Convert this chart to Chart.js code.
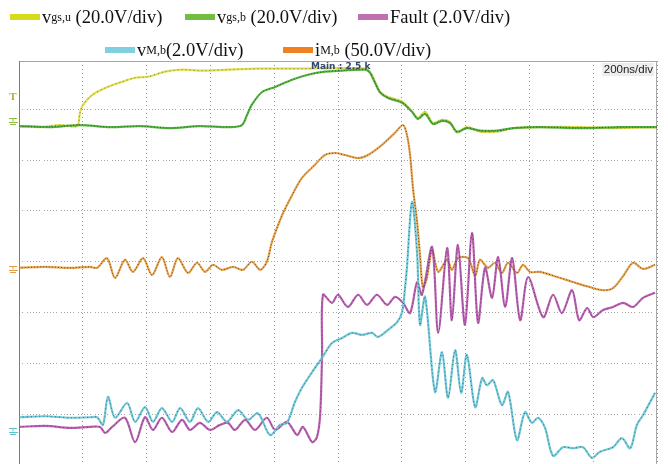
<!DOCTYPE html>
<html>
<head>
<meta charset="utf-8">
<script src="https://cdn.jsdelivr.net/npm/chart.js@4.4.0/dist/chart.umd.min.js"></script>
<style>
body { margin: 0; background: #fff; overflow: hidden; }
#wrap { position: relative; width: 668px; height: 464px; }
#myChart { position: absolute; left: 0; top: 0; }
.item { position: absolute; display: flex; align-items: center; height: 24px;
        font-family: "Liberation Serif", "Times New Roman", serif; font-size: 18.5px; color: #111; white-space: nowrap; }
.bar { width: 30px; height: 6px; margin-right: 2px; }
.item sub { font-size: 12px; vertical-align: -2px; line-height: 0; }
</style>
</head>
<body>
<div id="wrap">
  <canvas id="myChart" width="668" height="464"></canvas>
  <div class="item" style="left:10px; top:5px"><span class="bar" style="background:#d6dc1a"></span>v<sub>gs,u</sub>&nbsp;(20.0V/div)</div>
  <div class="item" style="left:185px; top:5px"><span class="bar" style="background:#70bf40"></span>v<sub>gs,b</sub>&nbsp;(20.0V/div)</div>
  <div class="item" style="left:358px; top:5px"><span class="bar" style="background:#c070b0"></span>Fault (2.0V/div)</div>
  <div class="item" style="left:105px; top:38px"><span class="bar" style="background:#80d0e0"></span>v<sub>M,b</sub>(2.0V/div)</div>
  <div class="item" style="left:283px; top:38px"><span class="bar" style="background:#f08020"></span>i<sub>M,b</sub>&nbsp;(50.0V/div)</div>
</div>
<script>
// time in ns (200 ns/div), value in screen divisions (0 = bottom, 8 = top)
const vgsU = [[0,6.67],[66,6.65],[129,6.69],[182,6.67],[191,6.93],[201,7.09],[229,7.28],[270,7.42],[323,7.54],[364,7.62],[404,7.64],[458,7.74],[511,7.78],[574,7.76],[655,7.78],[756,7.80],[881,7.80],[1006,7.81],[1085,7.80],[1100,7.74],[1116,7.54],[1132,7.34],[1157,7.24],[1201,7.15],[1232,6.95],[1251,6.83],[1273,6.95],[1298,6.73],[1326,6.79],[1351,6.75],[1373,6.54],[1404,6.65],[1445,6.56],[1499,6.56],[1549,6.63],[1633,6.65],[1759,6.65],[1884,6.63],[2000,6.65]];

const vgsB = [[0,6.67],[97,6.65],[191,6.69],[285,6.65],[379,6.67],[473,6.63],[567,6.67],[661,6.65],[699,6.69],[715,6.89],[730,7.09],[762,7.34],[803,7.44],[856,7.58],[906,7.68],[959,7.74],[1013,7.76],[1085,7.78],[1100,7.72],[1116,7.52],[1132,7.33],[1157,7.22],[1201,7.13],[1232,6.95],[1251,6.81],[1273,6.91],[1298,6.71],[1326,6.77],[1351,6.73],[1373,6.56],[1404,6.63],[1445,6.58],[1499,6.58],[1549,6.63],[1633,6.65],[1759,6.63],[1884,6.65],[2000,6.65]];

const iMb = [[0,3.88],[82,3.90],[160,3.88],[223,3.90],[245,3.88],[276,4.07],[301,3.68],[332,4.04],[357,3.80],[389,4.07],[417,3.74],[448,4.09],[473,3.70],[498,4.07],[530,3.78],[558,3.98],[583,3.80],[608,3.94],[636,3.84],[671,3.90],[702,3.84],[730,4.00],[756,3.84],[777,4.00],[793,4.39],[825,4.92],[856,5.31],[887,5.65],[928,5.91],[959,6.10],[991,6.14],[1022,6.10],[1063,6.04],[1094,6.10],[1138,6.30],[1179,6.54],[1204,6.69],[1216,6.50],[1226,6.10],[1235,5.45],[1248,4.78],[1257,4.13],[1266,3.50],[1278,3.66],[1295,4.23],[1314,3.80],[1342,4.04],[1357,3.84],[1376,4.07],[1408,4.07],[1430,3.72],[1445,4.04],[1470,3.88],[1492,3.98],[1514,3.78],[1533,3.98],[1561,3.78],[1580,3.94],[1602,3.80],[1633,3.80],[1687,3.70],[1737,3.60],[1790,3.50],[1831,3.44],[1862,3.48],[1894,3.72],[1925,3.98],[1956,3.86],[1994,3.94]];

const fault = [[0,0.75],[82,0.77],[160,0.73],[223,0.75],[254,0.75],[270,0.63],[292,0.75],[332,0.93],[364,0.45],[395,0.94],[420,0.69],[448,0.93],[480,0.65],[511,0.89],[536,0.69],[567,0.83],[599,0.69],[630,0.79],[655,0.83],[677,0.69],[709,0.89],[740,0.69],[777,0.93],[803,0.69],[840,0.85],[872,0.59],[890,0.75],[919,0.45],[934,0.55],[944,0.98],[950,2.17],[953,3.35],[981,3.19],[1000,3.35],[1031,3.11],[1063,3.35],[1091,3.15],[1122,3.35],[1154,3.15],[1179,3.31],[1204,3.19],[1226,2.99],[1248,3.60],[1263,3.35],[1295,4.29],[1314,2.60],[1342,4.27],[1357,2.85],[1376,4.33],[1398,2.76],[1420,4.57],[1439,2.80],[1461,3.88],[1483,3.29],[1502,4.09],[1524,3.11],[1546,4.07],[1571,2.85],[1596,3.70],[1643,2.91],[1674,3.35],[1702,2.99],[1734,3.44],[1756,2.85],[1781,3.09],[1800,2.91],[1831,3.05],[1862,3.11],[1894,3.19],[1925,3.11],[1956,3.29],[1994,3.39]];

const vMb = [[0,0.94],[82,0.96],[160,0.93],[223,0.94],[245,0.94],[263,0.79],[279,1.34],[301,0.93],[339,1.22],[364,0.85],[395,1.14],[420,0.85],[448,1.12],[480,0.85],[505,1.12],[536,0.85],[561,1.12],[593,0.85],[621,1.04],[652,0.85],[687,1.08],[718,0.89],[749,1.02],[787,0.59],[818,0.79],[840,0.83],[865,1.24],[887,1.52],[919,1.83],[950,2.11],[981,2.40],[1013,2.50],[1044,2.60],[1075,2.56],[1107,2.60],[1125,2.52],[1157,2.66],[1185,2.81],[1201,3.01],[1210,3.48],[1216,3.88],[1232,5.18],[1248,4.17],[1257,2.76],[1273,3.31],[1304,1.44],[1326,2.22],[1345,1.32],[1367,2.26],[1386,1.42],[1404,2.17],[1430,1.14],[1452,1.71],[1467,1.57],[1486,1.67],[1514,1.18],[1533,1.44],[1561,0.49],[1586,1.04],[1608,0.83],[1627,0.93],[1649,0.73],[1674,0.18],[1705,0.35],[1737,0.33],[1768,0.35],[1796,0.14],[1821,0.26],[1862,0.35],[1890,0.53],[1916,0.33],[1937,0.79],[1956,0.98],[1994,1.42]];

// ground reference levels per channel (divisions)
const gndVgs = 6.75;
const gndI = 3.84;
const gndV = 0.65;
const trigLevel = 7.24;

function trace(pts, color, width, order, dash) {
    return {
        data: pts.map(p => ({ x: p[0], y: p[1] })),
        borderColor: color,
        borderWidth: width,
        borderDash: dash || [],
        pointRadius: 0,
        tension: 0.3,
        order: order
    };
}

const scopePlugin = {
    id: 'scope',
    beforeDatasetsDraw(chart) {
        const { ctx, chartArea: { left, right, top, bottom } } = chart;
        ctx.save();
        ctx.lineWidth = 1;
        ctx.strokeStyle = '#a8a8a8';
        ctx.beginPath();
        ctx.moveTo(left, top + 0.5);
        ctx.lineTo(right, top + 0.5);
        ctx.moveTo(right - 0.5, top);
        ctx.lineTo(right - 0.5, bottom);
        ctx.stroke();
        ctx.strokeStyle = '#6f7f90';
        ctx.beginPath();
        ctx.moveTo(left + 0.5, top);
        ctx.lineTo(left + 0.5, bottom);
        ctx.stroke();
        ctx.restore();
    },
    afterDraw(chart) {
        const { ctx, chartArea: { left, right, top }, scales: { y } } = chart;
        ctx.save();
        ctx.font = 'bold 9px "DejaVu Sans", Arial';
        ctx.fillStyle = '#34486a';
        ctx.textBaseline = 'top';
        ctx.fillText('Main : 2.5 k', left + 292, top + 1);
        ctx.fillStyle = 'rgba(235,235,235,0.9)';
        ctx.fillRect(right - 55, top + 2, 52, 13);
        ctx.font = '11.5px "Liberation Sans", Arial';
        ctx.fillStyle = '#222';
        ctx.textAlign = 'right';
        ctx.fillText('200ns/div', right - 4, top + 3);

        // trigger marker
        ctx.textAlign = 'center';
        ctx.textBaseline = 'middle';
        ctx.font = 'bold 11px "Liberation Serif", serif';
        ctx.fillStyle = '#b8b020';
        ctx.fillText('T', left - 6, y.getPixelForValue(trigLevel));

        // ground markers
        const grounds = [[gndVgs, '#8cc040'], [gndI, '#e0a040'], [gndV, '#60c0d0']];
        grounds.forEach(g => {
            const py = Math.round(y.getPixelForValue(g[0])) + 0.5;
            ctx.strokeStyle = g[1];
            ctx.lineWidth = 1;
            ctx.beginPath();
            ctx.moveTo(left - 10, py - 4); ctx.lineTo(left - 2, py - 4);
            ctx.moveTo(left - 6, py - 4); ctx.lineTo(left - 6, py - 1);
            ctx.moveTo(left - 10, py); ctx.lineTo(left - 1, py);
            ctx.moveTo(left - 9, py + 2); ctx.lineTo(left - 3, py + 2);
            ctx.stroke();
        });
        ctx.restore();
    }
};

document.addEventListener('DOMContentLoaded', function() {
    const ctx = document.getElementById('myChart').getContext('2d');

    const datasets = [
        trace(vgsU, '#e0e050', 2.2, 6),
        trace(vgsU, 'rgba(100,95,30,0.75)', 1, 1, [1, 3]),
        trace(vgsB, '#58b444', 2.2, 5),
        trace(vgsB, 'rgba(25,80,25,0.8)', 1, 1, [1, 2]),
        trace(iMb, '#e8a650', 2.2, 4),
        trace(iMb, 'rgba(70,45,15,0.8)', 1, 1, [1, 2]),
        trace(fault, '#b860b0', 2.2, 3),
        trace(fault, 'rgba(80,30,80,0.6)', 1, 1, [1, 3]),
        trace(vMb, '#70c8d8', 2.2, 2),
        trace(vMb, 'rgba(25,75,85,0.7)', 1, 1, [1, 3])
    ];

    const chart = new Chart(ctx, {
        type: 'line',
        data: { datasets: datasets },
        options: {
            responsive: false,
            animation: false,
            layout: { padding: { left: 19, right: 11, top: 61, bottom: 0 } },
            plugins: {
                legend: { display: false },
                tooltip: { enabled: false }
            },
            scales: {
                x: {
                    type: 'linear',
                    min: 0,
                    max: 2000,
                    ticks: { display: false, stepSize: 200 },
                    grid: { color: '#8a98ac', drawTicks: false },
                    border: { display: false, dash: [1, 3] }
                },
                y: {
                    min: 0.02,
                    max: 7.95,
                    ticks: { display: false },
                    afterBuildTicks: axis => { axis.ticks = [1, 2, 3, 4, 5, 6, 7].map(v => ({ value: v })); },
                    grid: { color: '#a4a4a4', drawTicks: false },
                    border: { display: false, dash: [1, 2, 1, 2, 1, 2, 1, 2, 1, 4], dashOffset: -8 }
                }
            }
        },
        plugins: [scopePlugin]
    });
});
</script>
</body>
</html>
